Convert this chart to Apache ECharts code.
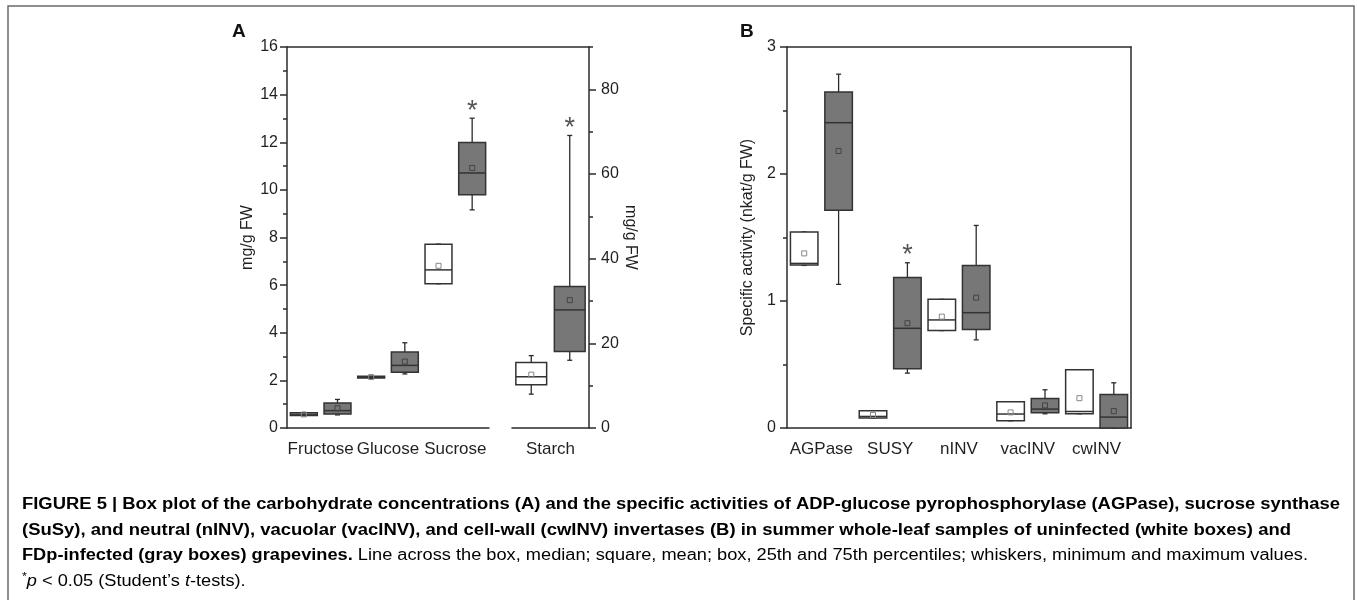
<!DOCTYPE html>
<html>
<head>
<meta charset="utf-8">
<script src="https://cdn.jsdelivr.net/npm/echarts@6/dist/echarts.min.js"></script>
<style>
html, body { margin: 0; padding: 0; background: #fff; }
#main { width: 1357px; height: 600px; }
</style>
</head>
<body>
<div id="main"></div>
<script>
// boxes: min, q1, median, q3, max ; order = uninfected, FDp-infected for each group
var sugarLabels = ['Fructose', 'Glucose', 'Sucrose'];
var sugarBoxes = [
    [0.52, 0.52, 0.58, 0.64, 0.64],
    [0.55, 0.59, 0.73, 1.05, 1.2],
    [2.09, 2.1, 2.13, 2.17, 2.17],
    [2.27, 2.34, 2.63, 3.19, 3.58],
    [6.06, 6.06, 6.64, 7.72, 7.72],
    [9.16, 9.8, 10.71, 11.99, 13.01]
];
var sugarMeans = [0.57, 0.83, 2.14, 2.79, 6.81, 10.92];
var sugarStars = [5];

var starchLabels = ['Starch'];
var starchBoxes = [
    [8.0, 10.2, 12.1, 15.5, 17.1],
    [16.0, 18.1, 27.9, 33.4, 69.1]
];
var starchMeans = [12.6, 30.2];
var starchStars = [1];

var enzymeLabels = ['AGPase', 'SUSY', 'nINV', 'vacINV', 'cwINV'];
var enzymeBoxes = [
    [1.28, 1.283, 1.296, 1.544, 1.544],
    [1.131, 1.715, 2.404, 2.645, 2.786],
    [0.078, 0.078, 0.091, 0.136, 0.136],
    [0.432, 0.466, 0.785, 1.186, 1.301],
    [0.767, 0.767, 0.851, 1.013, 1.013],
    [0.694, 0.775, 0.908, 1.28, 1.595],
    [0.057, 0.057, 0.11, 0.207, 0.207],
    [0.112, 0.12, 0.149, 0.233, 0.301],
    [0.112, 0.112, 0.13, 0.458, 0.458],
    [0, 0, 0.086, 0.264, 0.356]
];
var enzymeMeans = [1.375, 2.181, 0.102, 0.825, 0.877, 1.026, 0.123, 0.178, 0.235, 0.133];
var enzymeStars = [3];

var starchTicks = [0, 20, 40, 60, 80];
var starchMinorTicks = [10, 30, 50, 70, 90];

var groups = ['uninfected', 'FDp-infected'];

var FONT = '"Liberation Sans", Arial, sans-serif';
var AXIS = '#2b2b2b';
var TEXT = '#231f20';

// caption, pieces as [style, text]
var captionLines = [
    [['b', 'FIGURE 5 | Box plot of the carbohydrate concentrations (A) and the specific activities of ADP-glucose pyrophosphorylase (AGPase), sucrose synthase']],
    [['b', '(SuSy), and neutral (nINV), vacuolar (vacINV), and cell-wall (cwINV) invertases (B) in summer whole-leaf samples of uninfected (white boxes) and']],
    [['b', 'FDp-infected (gray boxes) grapevines.'], ['r', ' Line across the box, median; square, mean; box, 25th and 75th percentiles; whiskers, minimum and maximum values.']],
    [['s', '*'], ['i', 'p'], ['r', ' < 0.05 (Student\u2019s '], ['i', 't'], ['r', '-tests).']]
];
var captionEnds = [1340, 1291, 1308, null];

function catNames(labels) {
    var out = [];
    labels.forEach(function (l) {
        groups.forEach(function (g) { out.push(l + ' ' + g); });
    });
    return out;
}

function boxData(boxes, means, stars) {
    return boxes.map(function (b, i) {
        return [i].concat(b, [means[i], stars.indexOf(i) >= 0 ? 1 : 0]);
    });
}

function renderBox(params, api) {
    var i = api.value(0);
    var band = api.size([1, 0])[0];
    var w = band * 0.8;
    var pMin = api.coord([i, api.value(1)]);
    var pQ1 = api.coord([i, api.value(2)]);
    var pMed = api.coord([i, api.value(3)]);
    var pQ3 = api.coord([i, api.value(4)]);
    var pMax = api.coord([i, api.value(5)]);
    var pMean = api.coord([i, api.value(6)]);
    var cx = pMed[0];
    var infected = i % 2 === 1;
    var ls = { stroke: AXIS, lineWidth: 1.3 };
    var kids = [
        { type: 'line', shape: { x1: cx, y1: pMax[1], x2: cx, y2: pQ3[1] }, style: ls },
        { type: 'line', shape: { x1: cx, y1: pQ1[1], x2: cx, y2: pMin[1] }, style: ls },
        { type: 'line', shape: { x1: cx - 2.5, y1: pMax[1], x2: cx + 2.5, y2: pMax[1] }, style: ls },
        { type: 'line', shape: { x1: cx - 2.5, y1: pMin[1], x2: cx + 2.5, y2: pMin[1] }, style: ls },
        { type: 'rect', shape: { x: cx - w / 2, y: pQ3[1], width: w, height: pQ1[1] - pQ3[1] },
          style: { fill: infected ? '#777777' : '#ffffff', stroke: '#333', lineWidth: 1.5 } },
        { type: 'line', shape: { x1: cx - w / 2, y1: pMed[1], x2: cx + w / 2, y2: pMed[1] }, style: { stroke: '#333', lineWidth: 1.5 } },
        { type: 'rect', shape: { x: pMean[0] - 2.5, y: pMean[1] - 2.5, width: 5, height: 5 },
          style: { fill: 'none', stroke: infected ? '#444' : '#888', lineWidth: 1 } }
    ];
    if (api.value(7)) {
        kids.push({ type: 'text', x: cx, y: pMax[1] - 7,
            style: { text: '*', fontSize: 27, fontFamily: FONT, fill: '#555', align: 'center', verticalAlign: 'middle' } });
    }
    return { type: 'group', children: kids };
}

// axis helpers
function tickAxis(grid, data) {
    return {
        gridIndex: grid, type: 'category', data: data, position: 'bottom',
        axisLine: { lineStyle: { color: AXIS, width: 1.5 } },
        axisTick: { alignWithLabel: true, interval: 0, length: 6, lineStyle: { color: AXIS, width: 1.5 } },
        axisLabel: { show: false }
    };
}
function labelAxis(grid, data) {
    return {
        gridIndex: grid, type: 'category', data: data, position: 'bottom',
        axisLine: { show: false }, axisTick: { show: false },
        axisLabel: { interval: 0, hideOverlap: false, fontSize: 17, fontFamily: FONT, color: TEXT, margin: 13 }
    };
}
function frameX(grid) {
    return {
        gridIndex: grid, type: 'value', position: 'top', min: 0, max: 1,
        axisLine: { show: true, onZero: false, lineStyle: { color: AXIS, width: 1.5 } },
        axisTick: { show: false }, axisLabel: { show: false }, splitLine: { show: false }
    };
}

var captionCtx = document.createElement('canvas').getContext('2d');
var capStyles = {
    b: { fontSize: 16, fontWeight: 'bold', fontStyle: 'normal', fill: '#231f20' },
    r: { fontSize: 16, fontWeight: 'normal', fontStyle: 'normal', fill: '#3a3a3a' },
    i: { fontSize: 16, fontWeight: 'normal', fontStyle: 'italic', fill: '#3a3a3a' },
    s: { fontSize: 11, fontWeight: 'normal', fontStyle: 'normal', fill: '#3a3a3a' }
};
function measureLine(parts) {
    var w = 0;
    parts.forEach(function (p) {
        var s = capStyles[p[0]];
        captionCtx.font = s.fontStyle + ' ' + s.fontWeight + ' ' + s.fontSize + 'px "Liberation Sans"';
        w += captionCtx.measureText(p[1]).width;
    });
    return w;
}

var captionGraphics = [];
var lastScale = 1;
captionLines.forEach(function (parts, k) {
    var width = measureLine(parts);
    var scale = captionEnds[k] ? (captionEnds[k] - 22) / width : lastScale;
    lastScale = scale;
    var rich = {};
    Object.keys(capStyles).forEach(function (key) {
        var s = capStyles[key];
        rich[key] = { fontSize: s.fontSize, fontWeight: s.fontWeight, fontStyle: s.fontStyle,
            color: s.fill, fontFamily: FONT, lineHeight: 20,
            verticalAlign: key === 's' ? 'top' : 'middle' };
    });
    captionGraphics.push({
        type: 'text', x: 22, y: 505 + k * 25.5, scaleX: scale,
        style: {
            text: parts.map(function (p) { return '{' + p[0] + '|' + p[1] + '}'; }).join(''),
            rich: rich, verticalAlign: 'middle', align: 'left'
        }
    });
});

var chart = echarts.init(document.getElementById('main'));
var option = {
    animation: false,
    backgroundColor: '#fff',
    grid: [
        { left: 287, top: 47, width: 202, height: 381 },
        { left: 512, top: 47, width: 77, height: 381 },
        { left: 287, top: 47, width: 302, height: 381 },
        { left: 787, top: 47, width: 344, height: 381 }
    ],
    xAxis: [
        tickAxis(0, catNames(sugarLabels)),
        labelAxis(0, sugarLabels),
        tickAxis(1, catNames(starchLabels)),
        labelAxis(1, starchLabels),
        frameX(2),
        tickAxis(3, catNames(enzymeLabels)),
        labelAxis(3, enzymeLabels),
        frameX(3)
    ],
    yAxis: [
        {
            gridIndex: 0, type: 'value', position: 'left', min: 0, max: 16, interval: 2,
            name: 'mg/g FW', nameLocation: 'middle', nameGap: 31,
            nameTextStyle: { fontSize: 16, fontFamily: FONT, color: TEXT },
            axisLine: { show: true, lineStyle: { color: AXIS, width: 1.5 } },
            axisTick: { show: true, length: 7, lineStyle: { color: AXIS, width: 1.5 } },
            minorTick: { show: true, splitNumber: 2, length: 4, lineStyle: { color: AXIS, width: 1.5 } },
            axisLabel: { fontSize: 16, fontFamily: FONT, color: TEXT, margin: 9 },
            splitLine: { show: false }
        },
        {
            gridIndex: 1, type: 'value', position: 'right', min: 0, max: 90,
            name: 'mg/g FW', nameLocation: 'middle', nameGap: 33, nameRotate: -90,
            nameTextStyle: { fontSize: 16, fontFamily: FONT, color: TEXT },
            axisLine: { show: true, lineStyle: { color: AXIS, width: 1.5 } },
            axisTick: { show: true, length: 7, customValues: starchTicks, lineStyle: { color: AXIS, width: 1.5 } },
            axisLabel: { fontSize: 16, fontFamily: FONT, color: TEXT, margin: 12, customValues: starchTicks },
            splitLine: { show: false }
        },
        {
            gridIndex: 1, type: 'value', position: 'right', min: 0, max: 90,
            axisLine: { show: false },
            axisTick: { show: true, length: 4, customValues: starchMinorTicks, lineStyle: { color: AXIS, width: 1.5 } },
            axisLabel: { show: false }, splitLine: { show: false }
        },
        {
            gridIndex: 3, type: 'value', position: 'left', min: 0, max: 3, interval: 1,
            name: 'Specific activity (nkat/g FW)', nameLocation: 'middle', nameGap: 31,
            nameTextStyle: { fontSize: 16, fontFamily: FONT, color: TEXT },
            axisLine: { show: true, lineStyle: { color: AXIS, width: 1.5 } },
            axisTick: { show: true, length: 7, lineStyle: { color: AXIS, width: 1.5 } },
            minorTick: { show: true, splitNumber: 2, length: 4, lineStyle: { color: AXIS, width: 1.5 } },
            axisLabel: { fontSize: 16, fontFamily: FONT, color: TEXT, margin: 11 },
            splitLine: { show: false }
        },
        {
            gridIndex: 3, type: 'value', position: 'right', min: 0, max: 3,
            axisLine: { show: true, lineStyle: { color: AXIS, width: 1.5 } },
            axisTick: { show: false }, axisLabel: { show: false }, splitLine: { show: false }
        },
        { gridIndex: 2, type: 'value', show: false, min: 0, max: 1 }
    ],
    series: [
        {
            type: 'custom', name: 'sugars', xAxisIndex: 0, yAxisIndex: 0,
            renderItem: renderBox, encode: { x: 0, y: [1, 2, 3, 4, 5] },
            data: boxData(sugarBoxes, sugarMeans, sugarStars)
        },
        {
            type: 'custom', name: 'starch', xAxisIndex: 2, yAxisIndex: 1,
            renderItem: renderBox, encode: { x: 0, y: [1, 2, 3, 4, 5] },
            data: boxData(starchBoxes, starchMeans, starchStars)
        },
        {
            type: 'custom', name: 'enzymes', xAxisIndex: 5, yAxisIndex: 3,
            renderItem: renderBox, encode: { x: 0, y: [1, 2, 3, 4, 5] },
            data: boxData(enzymeBoxes, enzymeMeans, enzymeStars)
        }
    ],
    graphic: [
        { type: 'rect', shape: { x: 8, y: 6, width: 1346, height: 640 },
          style: { fill: 'none', stroke: '#6a6a6a', lineWidth: 1.5 }, silent: true },
        { type: 'text', x: 232, y: 32, style: { text: 'A', fontSize: 19, fontWeight: 'bold', fontFamily: FONT, fill: '#111', verticalAlign: 'middle' } },
        { type: 'text', x: 740, y: 32, style: { text: 'B', fontSize: 19, fontWeight: 'bold', fontFamily: FONT, fill: '#111', verticalAlign: 'middle' } }
    ].concat(captionGraphics)
};
chart.setOption(option);
</script>
</body>
</html>
